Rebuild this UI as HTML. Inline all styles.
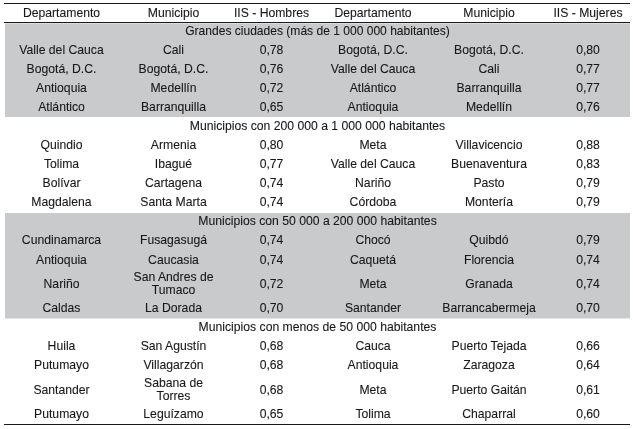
<!DOCTYPE html>
<html><head><meta charset="utf-8"><title>Tabla</title>
<style>
html,body{margin:0;padding:0;background:#fff;}
body{width:633px;height:429px;position:relative;overflow:hidden;font-family:"Liberation Sans",sans-serif;font-size:12.2px;color:#181818;-webkit-text-stroke:0.1px #181818;}
.g{position:absolute;left:5px;width:625px;background:#c9cacc;}
.l{position:absolute;left:4px;width:626px;height:1px;background:#1a1a1a;}
#t{position:absolute;left:0;top:0;width:633px;height:429px;will-change:transform;}
.c{position:absolute;width:400px;margin-left:-200px;text-align:center;line-height:13px;white-space:nowrap;}
</style></head><body>

<div class="g" style="top:23px;height:1px;background:#dcddde"></div>
<div class="g" style="top:24px;height:93px"></div>
<div class="g" style="top:213px;height:105px"></div>
<div class="g" style="top:318px;height:1px;background:#e4e5e6"></div>
<div class="l" style="top:3px"></div>
<div class="l" style="top:22px"></div>
<div class="l" style="top:424px"></div>
<div id="t">
<div class="c" style="left:61.5px;top:6.5px">Departamento</div>
<div class="c" style="left:173.5px;top:6.5px">Municipio</div>
<div class="c" style="left:271.5px;top:6.5px">IIS - Hombres</div>
<div class="c" style="left:373px;top:6.5px">Departamento</div>
<div class="c" style="left:489px;top:6.5px">Municipio</div>
<div class="c" style="left:588px;top:6.5px">IIS - Mujeres</div>
<div class="c" style="left:317.5px;top:24.5px;font-size:12.06px">Grandes ciudades (más de 1 000 000 habitantes)</div>
<div class="c" style="left:317.5px;top:119.5px">Municipios con 200 000 a 1 000 000 habitantes</div>
<div class="c" style="left:317.5px;top:214.5px">Municipios con 50 000 a 200 000 habitantes</div>
<div class="c" style="left:317.5px;top:320.5px">Municipios con menos de 50 000 habitantes</div>
<div class="c" style="left:61.5px;top:43.5px">Valle del Cauca</div>
<div class="c" style="left:173.5px;top:43.5px">Cali</div>
<div class="c" style="left:271.5px;top:43.5px">0,78</div>
<div class="c" style="left:373px;top:43.5px">Bogotá, D.C.</div>
<div class="c" style="left:489px;top:43.5px">Bogotá, D.C.</div>
<div class="c" style="left:588px;top:43.5px">0,80</div>
<div class="c" style="left:61.5px;top:62.5px">Bogotá, D.C.</div>
<div class="c" style="left:173.5px;top:62.5px">Bogotá, D.C.</div>
<div class="c" style="left:271.5px;top:62.5px">0,76</div>
<div class="c" style="left:373px;top:62.5px">Valle del Cauca</div>
<div class="c" style="left:489px;top:62.5px">Cali</div>
<div class="c" style="left:588px;top:62.5px">0,77</div>
<div class="c" style="left:61.5px;top:81.5px">Antioquia</div>
<div class="c" style="left:173.5px;top:81.5px">Medellín</div>
<div class="c" style="left:271.5px;top:81.5px">0,72</div>
<div class="c" style="left:373px;top:81.5px">Atlántico</div>
<div class="c" style="left:489px;top:81.5px">Barranquilla</div>
<div class="c" style="left:588px;top:81.5px">0,77</div>
<div class="c" style="left:61.5px;top:100.5px">Atlántico</div>
<div class="c" style="left:173.5px;top:100.5px">Barranquilla</div>
<div class="c" style="left:271.5px;top:100.5px">0,65</div>
<div class="c" style="left:373px;top:100.5px">Antioquia</div>
<div class="c" style="left:489px;top:100.5px">Medellín</div>
<div class="c" style="left:588px;top:100.5px">0,76</div>
<div class="c" style="left:61.5px;top:138.5px">Quindio</div>
<div class="c" style="left:173.5px;top:138.5px">Armenia</div>
<div class="c" style="left:271.5px;top:138.5px">0,80</div>
<div class="c" style="left:373px;top:138.5px">Meta</div>
<div class="c" style="left:489px;top:138.5px">Villavicencio</div>
<div class="c" style="left:588px;top:138.5px">0,88</div>
<div class="c" style="left:61.5px;top:157.5px">Tolima</div>
<div class="c" style="left:173.5px;top:157.5px">Ibagué</div>
<div class="c" style="left:271.5px;top:157.5px">0,77</div>
<div class="c" style="left:373px;top:157.5px">Valle del Cauca</div>
<div class="c" style="left:489px;top:157.5px">Buenaventura</div>
<div class="c" style="left:588px;top:157.5px">0,83</div>
<div class="c" style="left:61.5px;top:176.5px">Bolívar</div>
<div class="c" style="left:173.5px;top:176.5px">Cartagena</div>
<div class="c" style="left:271.5px;top:176.5px">0,74</div>
<div class="c" style="left:373px;top:176.5px">Nariño</div>
<div class="c" style="left:489px;top:176.5px">Pasto</div>
<div class="c" style="left:588px;top:176.5px">0,79</div>
<div class="c" style="left:61.5px;top:195.5px">Magdalena</div>
<div class="c" style="left:173.5px;top:195.5px">Santa Marta</div>
<div class="c" style="left:271.5px;top:195.5px">0,74</div>
<div class="c" style="left:373px;top:195.5px">Córdoba</div>
<div class="c" style="left:489px;top:195.5px">Montería</div>
<div class="c" style="left:588px;top:195.5px">0,79</div>
<div class="c" style="left:61.5px;top:233.5px">Cundinamarca</div>
<div class="c" style="left:173.5px;top:233.5px">Fusagasugá</div>
<div class="c" style="left:271.5px;top:233.5px">0,74</div>
<div class="c" style="left:373px;top:233.5px">Chocó</div>
<div class="c" style="left:489px;top:233.5px">Quibdó</div>
<div class="c" style="left:588px;top:233.5px">0,79</div>
<div class="c" style="left:61.5px;top:253.5px">Antioquia</div>
<div class="c" style="left:173.5px;top:253.5px">Caucasia</div>
<div class="c" style="left:271.5px;top:253.5px">0,74</div>
<div class="c" style="left:373px;top:253.5px">Caquetá</div>
<div class="c" style="left:489px;top:253.5px">Florencia</div>
<div class="c" style="left:588px;top:253.5px">0,74</div>
<div class="c" style="left:61.5px;top:277.5px">Nariño</div>
<div class="c" style="left:173.5px;top:271px">San Andres de<br>Tumaco</div>
<div class="c" style="left:271.5px;top:277.5px">0,72</div>
<div class="c" style="left:373px;top:277.5px">Meta</div>
<div class="c" style="left:489px;top:277.5px">Granada</div>
<div class="c" style="left:588px;top:277.5px">0,74</div>
<div class="c" style="left:61.5px;top:301.5px">Caldas</div>
<div class="c" style="left:173.5px;top:301.5px">La Dorada</div>
<div class="c" style="left:271.5px;top:301.5px">0,70</div>
<div class="c" style="left:373px;top:301.5px">Santander</div>
<div class="c" style="left:489px;top:301.5px">Barrancabermeja</div>
<div class="c" style="left:588px;top:301.5px">0,70</div>
<div class="c" style="left:61.5px;top:339.5px">Huila</div>
<div class="c" style="left:173.5px;top:339.5px">San Agustín</div>
<div class="c" style="left:271.5px;top:339.5px">0,68</div>
<div class="c" style="left:373px;top:339.5px">Cauca</div>
<div class="c" style="left:489px;top:339.5px">Puerto Tejada</div>
<div class="c" style="left:588px;top:339.5px">0,66</div>
<div class="c" style="left:61.5px;top:358.5px">Putumayo</div>
<div class="c" style="left:173.5px;top:358.5px">Villagarzón</div>
<div class="c" style="left:271.5px;top:358.5px">0,68</div>
<div class="c" style="left:373px;top:358.5px">Antioquia</div>
<div class="c" style="left:489px;top:358.5px">Zaragoza</div>
<div class="c" style="left:588px;top:358.5px">0,64</div>
<div class="c" style="left:61.5px;top:383.5px">Santander</div>
<div class="c" style="left:173.5px;top:377px">Sabana de<br>Torres</div>
<div class="c" style="left:271.5px;top:383.5px">0,68</div>
<div class="c" style="left:373px;top:383.5px">Meta</div>
<div class="c" style="left:489px;top:383.5px">Puerto Gaitán</div>
<div class="c" style="left:588px;top:383.5px">0,61</div>
<div class="c" style="left:61.5px;top:407.5px">Putumayo</div>
<div class="c" style="left:173.5px;top:407.5px">Leguízamo</div>
<div class="c" style="left:271.5px;top:407.5px">0,65</div>
<div class="c" style="left:373px;top:407.5px">Tolima</div>
<div class="c" style="left:489px;top:407.5px">Chaparral</div>
<div class="c" style="left:588px;top:407.5px">0,60</div>
</div>
</body></html>
